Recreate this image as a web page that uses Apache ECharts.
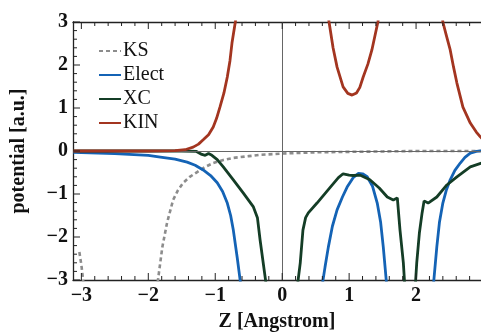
<!DOCTYPE html>
<html><head><meta charset="utf-8">
<script src="https://cdn.jsdelivr.net/npm/echarts@6/dist/echarts.min.js"></script>
<style>html,body{margin:0;padding:0;background:#fff}#c{width:481px;height:333px}</style>
</head><body><div id="c"></div>
<script>
// ---- data ----
const seriesNames = ['KS', 'Elect', 'XC', 'KIN'];
const xTicks = [-3, -2, -1, 0, 1, 2, 3];
const yTicks = [-3, -2, -1, 0, 1, 2, 3];
const ksData = [
  [-3.03,-2.35],[-3.0,-2.65],[-2.97,-3.05], null,
  [-1.86,-3.05],[-1.79,-2.23],[-1.72,-1.67],[-1.63,-1.14],[-1.56,-0.92],[-1.48,-0.74],[-1.38,-0.6],[-1.27,-0.49],[-1.15,-0.37],[-1.03,-0.28],[-0.88,-0.21],[-0.73,-0.16],[-0.5,-0.12],[-0.33,-0.09],[0,-0.06],[0.5,-0.03],[1.0,-0.02],[1.5,-0.01],[2.0,0],[3.0,0]
];
const electData = [
  [-3.12,-0.03],[-2.5,-0.06],[-2.0,-0.1],[-1.82,-0.14],[-1.6,-0.19],[-1.42,-0.26],[-1.3,-0.33],[-1.18,-0.44],[-1.07,-0.57],[-0.97,-0.74],[-0.89,-0.94],[-0.82,-1.21],[-0.77,-1.5],[-0.73,-1.84],[-0.67,-2.5],[-0.62,-3.1], null,
  [0.60,-3.1],[0.64,-2.7],[0.69,-2.23],[0.75,-1.75],[0.82,-1.37],[0.9,-1.07],[0.97,-0.84],[1.06,-0.62],[1.14,-0.52],[1.2,-0.53],[1.27,-0.60],[1.35,-0.82],[1.42,-1.21],[1.47,-1.65],[1.51,-2.23],[1.56,-3.1], null,
  [2.26,-3.1],[2.31,-2.23],[2.35,-1.65],[2.40,-1.21],[2.45,-0.92],[2.51,-0.67],[2.58,-0.45],[2.66,-0.28],[2.73,-0.15],[2.81,-0.05],[2.9,-0.01],[3.0,0.01]
];
const xcData = [
  [-3.12,0],[-2.5,0],[-1.5,0],[-1.28,-0.01],[-1.2,-0.08],[-1.15,-0.1],[-1.1,-0.06],[-1.05,-0.1],[-0.97,-0.2],[-0.88,-0.37],[-0.73,-0.67],[-0.58,-0.98],[-0.43,-1.30],[-0.37,-1.55],[-0.33,-2.07],[-0.24,-3.1], null,
  [0.23,-3.1],[0.27,-2.6],[0.31,-1.84],[0.35,-1.55],[0.39,-1.44],[0.52,-1.21],[0.72,-0.84],[0.84,-0.62],[0.91,-0.53],[1.0,-0.56],[1.06,-0.57],[1.16,-0.56],[1.31,-0.67],[1.45,-0.86],[1.57,-1.07],[1.66,-1.14],[1.72,-1.09],[1.76,-1.84],[1.81,-2.6],[1.83,-3.1], null,
  [1.99,-3.1],[2.01,-2.6],[2.05,-1.9],[2.09,-1.44],[2.12,-1.16],[2.18,-1.21],[2.31,-1.07],[2.46,-0.79],[2.61,-0.60],[2.81,-0.37],[3.0,-0.27]
];
const kinData = [
  [-3.12,0],[-2,0],[-1.6,0.01],[-1.45,0.03],[-1.33,0.09],[-1.25,0.16],[-1.18,0.26],[-1.1,0.38],[-1.03,0.56],[-0.98,0.76],[-0.93,1.02],[-0.87,1.35],[-0.82,1.72],[-0.78,2.1],[-0.75,2.51],[-0.70,3.0],[-0.67,3.4], null,
  [0.67,3.4],[0.70,3.0],[0.76,2.4],[0.82,1.95],[0.91,1.49],[0.98,1.34],[1.045,1.30],[1.11,1.35],[1.16,1.48],[1.21,1.72],[1.28,2.02],[1.34,2.35],[1.43,3.0],[1.46,3.4], null,
  [2.38,3.4],[2.40,3.0],[2.45,2.7],[2.51,2.35],[2.56,1.95],[2.61,1.58],[2.70,1.02],[2.81,0.65],[2.9,0.44],[2.96,0.33],[3.0,0.27]
];
// ---- chart ----
const X_MIN = -3.125, X_MAX = 2.97, Y_MIN = -3, Y_MAX = 3;
const minorX = [], minorY = [];
for (let i = -15; i <= 15; i++) {
  if (i % 5 !== 0) { minorX.push(+(i * 0.2).toFixed(1)); minorY.push(+(i * 0.2).toFixed(1)); }
}
// tick marks drawn through the axes' own scale (kind: 0 x-major, 1 x-minor, 2 y-major, 3 y-minor)
const tickItems = [];
xTicks.forEach(v => tickItems.push([0, v]));
minorX.forEach(v => tickItems.push([1, v]));
yTicks.forEach(v => tickItems.push([2, v]));
minorY.forEach(v => tickItems.push([3, v]));

const font = "'Liberation Serif','Times New Roman',serif";
const fmt = v => (v < 0 ? '\u2212' + Math.abs(v) : String(v));
const axisColor = '#222';
function xAx(pos) {
  return {
    type: 'value', min: X_MIN, max: X_MAX, position: pos,
    axisLine: { show: true, onZero: false, lineStyle: { color: axisColor, width: 1.3 } },
    axisTick: { show: false },
    axisLabel: { show: pos === 'bottom', customValues: xTicks, formatter: fmt, margin: 6,
      fontFamily: font, fontSize: 20, fontWeight: 'bold', color: '#111' },
    splitLine: { show: false },
    name: pos === 'bottom' ? 'Z [Angstrom]' : '',
    nameLocation: 'middle', nameGap: 32,
    nameTextStyle: { fontFamily: font, fontSize: 20, fontWeight: 'bold', color: '#111' }
  };
}
function renderTick(params, api) {
  const kind = api.value(0), v = api.value(1);
  const len = (kind === 0 || kind === 2) ? 7 : 4;
  const st = { stroke: axisColor, lineWidth: 1 };
  if (kind < 2) {
    const b = api.coord([v, Y_MIN]), t = api.coord([v, Y_MAX]);
    return { type: 'group', children: [
      { type: 'line', shape: { x1: b[0], y1: b[1], x2: b[0], y2: b[1] - len }, style: st },
      { type: 'line', shape: { x1: t[0], y1: t[1], x2: t[0], y2: t[1] + len }, style: st }
    ] };
  }
  const l = api.coord([X_MIN, v]);
  return { type: 'line', shape: { x1: l[0], y1: l[1], x2: l[0] + len, y2: l[1] }, style: st };
}
const colors = { KS: '#8c8c8c', Elect: '#1463b5', XC: '#143d26', KIN: '#a33520' };
const chart = echarts.init(document.getElementById('c'));
chart.setOption({
  animation: false,
  backgroundColor: '#fff',
  grid: { left: 73, right: 0, top: 22, bottom: 53, containLabel: false, outerBoundsMode: 'none' },
  legend: {
    orient: 'vertical', left: 93, top: 36, itemGap: 4, itemWidth: 22, itemHeight: 14,
    data: seriesNames,
    itemStyle: { opacity: 0 },
    textStyle: { fontFamily: font, fontSize: 20, color: '#111', padding: [0, 0, 0, -3] }
  },
  xAxis: [xAx('bottom'), xAx('top')],
  yAxis: {
    type: 'value', min: Y_MIN, max: Y_MAX, interval: 1,
    axisLine: { show: true, onZero: false, lineStyle: { color: axisColor, width: 1.3 } },
    axisTick: { show: false },
    axisLabel: { formatter: fmt, margin: 5, fontFamily: font, fontSize: 20, fontWeight: 'bold', color: '#111' },
    splitLine: { show: false },
    name: 'potential [a.u.]', nameLocation: 'middle', nameGap: 44,
    nameTextStyle: { fontFamily: font, fontSize: 20, fontWeight: 'bold', color: '#111' }
  },
  series: [
    { type: 'custom', name: '__ticks', data: tickItems, renderItem: renderTick, clip: false, silent: true, z: 10 },
    { type: 'line', name: '__zero', data: [], silent: true, z: 1,
      markLine: { silent: true, symbol: 'none', label: { show: false },
        lineStyle: { color: '#666', width: 1, type: 'solid' },
        data: [{ yAxis: 0 }, { xAxis: 0 }] } },
    { type: 'line', name: 'KS', data: ksData, symbol: 'none', clip: true, connectNulls: false,
      lineStyle: { color: colors.KS, width: 2.6, type: [4, 3] }, itemStyle: { color: colors.KS }, z: 2 },
    { type: 'line', name: 'Elect', data: electData, symbol: 'none', clip: true, connectNulls: false,
      lineStyle: { color: colors.Elect, width: 2.8 }, itemStyle: { color: colors.Elect }, z: 3 },
    { type: 'line', name: 'XC', data: xcData, symbol: 'none', clip: true, connectNulls: false,
      lineStyle: { color: colors.XC, width: 2.8 }, itemStyle: { color: colors.XC }, z: 4 },
    { type: 'line', name: 'KIN', data: kinData, symbol: 'none', clip: true, connectNulls: false,
      lineStyle: { color: colors.KIN, width: 2.8 }, itemStyle: { color: colors.KIN }, z: 5 }
  ]
});
</script></body></html>
